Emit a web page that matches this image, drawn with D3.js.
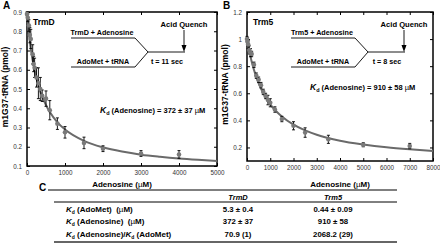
<!DOCTYPE html>
<html>
<head>
<meta charset="utf-8">
<script src="https://cdn.jsdelivr.net/npm/d3@7"></script>
<style>
  body { margin: 0; background: #fff; }
  svg { font-family: "Liberation Sans", Arial, sans-serif; }
  .tick text { font-size: 6.3px; fill: #333; }
</style>
</head>
<body>
<script>
// Panel A: TrmD, adenosine titration
var trmdConc = [0, 20, 50, 75, 100, 150, 175, 200, 250, 300, 350, 400, 500, 600, 800, 1000, 1500, 2000, 3000, 4000];
var trmdVal  = [0.89, 0.87, 0.83, 0.78, 0.76, 0.68, 0.63, 0.61, 0.56, 0.53, 0.50, 0.465, 0.45, 0.39, 0.32, 0.275, 0.22, 0.19, 0.165, 0.16];
var trmdErr  = [0.01, 0.02, 0.03, 0.04, 0.05, 0.05, 0.04, 0.05, 0.05, 0.08, 0.06, 0.03, 0.04, 0.05, 0.03, 0.03, 0.03, 0.015, 0.015, 0.02];
var trmdFitX = [0, 100, 200, 300, 400, 500, 600, 800, 1000, 1500, 2000, 2500, 3000, 3500, 4000, 4500, 5000];
var trmdFitY = [0.88, 0.708, 0.597, 0.518, 0.46, 0.416, 0.38, 0.327, 0.29, 0.231, 0.197, 0.175, 0.159, 0.148, 0.139, 0.132, 0.126];

// Panel B: Trm5
var trm5Conc = [0, 25, 50, 100, 150, 200, 300, 400, 500, 600, 700, 800, 900, 1000, 1200, 1500, 2000, 2500, 3500, 5000, 7000];
var trm5Val  = [1.0, 0.98, 0.96, 0.92, 0.90, 0.89, 0.81, 0.73, 0.70, 0.66, 0.61, 0.58, 0.55, 0.53, 0.48, 0.41, 0.36, 0.31, 0.26, 0.22, 0.21];
var trm5Err  = [0.02, 0.03, 0.03, 0.03, 0.03, 0.02, 0.02, 0.02, 0.02, 0.02, 0.02, 0.02, 0.035, 0.03, 0.02, 0.02, 0.03, 0.035, 0.03, 0.015, 0.02];
var trm5FitX = [0, 100, 200, 400, 600, 800, 1000, 1500, 2000, 2500, 3000, 4000, 5000, 6000, 7000, 8000];
var trm5FitY = [1.0, 0.909, 0.834, 0.719, 0.635, 0.57, 0.518, 0.428, 0.368, 0.326, 0.294, 0.25, 0.222, 0.201, 0.186, 0.174];

var trmdXTicks = [0, 1000, 2000, 3000, 4000, 5000];
var trmdYTicks = [0.1, 0.2, 0.3, 0.4, 0.5, 0.6, 0.7, 0.8, 0.9];
var trm5XTicks = [0, 1000, 2000, 3000, 4000, 5000, 6000, 7000, 8000];
var trm5YTicks = [0.2, 0.4, 0.6, 0.8, 1, 1.2];

// Panel C table
var tableCols = ["TrmD", "Trm5"];
var tableRows = ["(AdoMet)\u00a0\u00a0(\u00b5M)", "(Adenosine)\u00a0\u00a0(\u00b5M)", "ratio"];
var tableTrmD = ["5.3 \u00b1 0.4", "372 \u00b1 37", "70.9 (1)"];
var tableTrm5 = ["0.44 \u00b1 0.09", "910 \u00b1 58", "2068.2 (29)"];

var svg = d3.select("body").append("svg")
  .attr("width", 440).attr("height", 247);
svg.append("rect").attr("width", 440).attr("height", 247).attr("fill", "#fff");

function panel(p) {
  var g = svg.append("g");
  var x = d3.scaleLinear().domain(p.xdom).range([p.x0, p.x1]);
  var y = d3.scaleLinear().domain(p.ydom).range([p.y1, p.y0]);

  g.append("g").attr("transform", "translate(0," + p.y1 + ")")
    .call(d3.axisBottom(x).tickValues(p.xt).tickSizeInner(-3).tickSizeOuter(0).tickPadding(5).tickFormat(d3.format("")))
    .call(function (a) { a.select(".domain").remove(); });
  g.append("g").attr("transform", "translate(" + p.x0 + ",0)")
    .call(d3.axisLeft(y).tickValues(p.yt).tickSizeInner(-3).tickSizeOuter(0).tickPadding(5).tickFormat(d3.format("")))
    .call(function (a) { a.select(".domain").remove(); });
  // mirrored ticks
  g.append("g").attr("transform", "translate(0," + p.y0 + ")")
    .call(d3.axisTop(x).tickValues(p.xt).tickSizeInner(-3).tickSizeOuter(0).tickFormat(""))
    .call(function (a) { a.select(".domain").remove(); });
  g.append("g").attr("transform", "translate(" + p.x1 + ",0)")
    .call(d3.axisRight(y).tickValues(p.yt).tickSizeInner(-3).tickSizeOuter(0).tickFormat(""))
    .call(function (a) { a.select(".domain").remove(); });

  g.append("rect").attr("x", p.x0).attr("y", p.y0)
    .attr("width", p.x1 - p.x0).attr("height", p.y1 - p.y0)
    .attr("fill", "none").attr("stroke", "#000").attr("stroke-width", 1.5);

  // fit curve
  var fit = d3.line().x(function (d, i) { return x(p.fx[i]); })
    .y(function (d) { return y(d); }).curve(d3.curveMonotoneX);
  g.append("path").datum(p.fy).attr("d", fit)
    .attr("fill", "none").attr("stroke", "#6a6a6a").attr("stroke-width", 2);

  // error bars
  var eb = g.selectAll(".eb").data(p.cx).enter().append("g");
  eb.append("line")
    .attr("x1", function (d) { return x(d); }).attr("x2", function (d) { return x(d); })
    .attr("y1", function (d, i) { return y(p.cy[i] - p.ce[i]); })
    .attr("y2", function (d, i) { return y(p.cy[i] + p.ce[i]); })
    .attr("stroke", "#000").attr("stroke-width", 0.9);
  [-1, 1].forEach(function (s) {
    eb.append("line")
      .attr("x1", function (d) { return x(d) - 1.5; }).attr("x2", function (d) { return x(d) + 1.5; })
      .attr("y1", function (d, i) { return y(p.cy[i] + s * p.ce[i]); })
      .attr("y2", function (d, i) { return y(p.cy[i] + s * p.ce[i]); })
      .attr("stroke", "#000").attr("stroke-width", 0.9);
  });
  g.selectAll(".pt").data(p.cx).enter().append("circle")
    .attr("cx", function (d) { return x(d); })
    .attr("cy", function (d, i) { return y(p.cy[i]); })
    .attr("r", 2.3).attr("fill", "#7a7a7a");

  // labels
  svg.append("text").attr("x", p.x0 - 24).attr("y", 9).attr("font-size", 10)
    .attr("font-weight", "bold").text(p.letter);
  svg.append("text").attr("transform", "translate(" + (p.x0 - 19) + "," + ((p.y0 + p.y1) / 2 - 2) + ") rotate(-90)")
    .attr("text-anchor", "middle").attr("font-size", 8.5).attr("font-weight", "bold")
    .text("m1G37-tRNA (pmol)");
  var xl = svg.append("text").attr("x", (p.x0 + p.x1) / 2).attr("y", 187)
    .attr("text-anchor", "middle").attr("font-size", 8).attr("font-weight", "bold");
  xl.append("tspan").text("Adenosine (");
  xl.append("tspan").attr("font-weight", "normal").text("\u00b5");
  xl.append("tspan").text("M)");

  svg.append("text").attr("x", p.x0 + 6).attr("y", 25).attr("font-size", 8.5)
    .attr("font-weight", "bold").text(p.name);

  // scheme
  var o = p.x0;
  var sc = svg.append("g").attr("fill", "none").attr("stroke", "#000").attr("stroke-width", 0.9);
  sc.append("polyline").attr("points", [[o + 44, 38], [o + 108, 38], [o + 121, 52], [o + 158, 52]].join(" "));
  sc.append("polyline").attr("points", [[o + 44, 67], [o + 108, 67], [o + 121, 52]].join(" "));
  sc.append("line").attr("x1", o + 157).attr("x2", o + 157).attr("y1", 30).attr("y2", 49);
  svg.append("path").attr("d", "M" + (o + 154.5) + ",45 L" + (o + 159.5) + ",45 L" + (o + 157) + ",52 Z").attr("fill", "#000");
  function t(tx, ty, s, fs) {
    svg.append("text").attr("x", tx).attr("y", ty).attr("font-size", fs).attr("font-weight", "bold")
      .attr("text-anchor", "middle").text(s);
  }
  t(o + 75, 35, p.name + " + Adenosine", 7.2);
  t(o + 76, 64, "AdoMet + tRNA", 7.2);
  t(o + 157, 27, "Acid Quench", 7.6);
  t(o + 140, 64, p.tlabel, 7.2);

  var kd = svg.append("text").attr("x", p.kdx).attr("y", p.kdy).attr("font-size", 7.5).attr("font-weight", "bold");
  kd.append("tspan").attr("font-style", "italic").attr("font-size", 8.5).text("K");
  kd.append("tspan").attr("font-size", 5.5).attr("dy", 2).text("d");
  kd.append("tspan").attr("dy", -2).text(" (Adenosine) = " + p.kdtext + " ");
  kd.append("tspan").attr("font-weight", "normal").text("\u00b5");
  kd.append("tspan").text("M");
}

panel({ letter: "A", name: "TrmD", tlabel: "t = 11 sec", x0: 27, x1: 217, y0: 12, y1: 166,
  xdom: [0, 5000], ydom: [0.1, 0.9], xt: trmdXTicks, yt: trmdYTicks,
  cx: trmdConc, cy: trmdVal, ce: trmdErr, fx: trmdFitX, fy: trmdFitY,
  kdx: 100, kdy: 113, kdtext: "372 \u00b1 37" });
panel({ letter: "B", name: "Trm5", tlabel: "t = 8 sec", x0: 247, x1: 433, y0: 12, y1: 161,
  xdom: [0, 8000], ydom: [0.1, 1.2], xt: trm5XTicks, yt: trm5YTicks,
  cx: trm5Conc, cy: trm5Val, ce: trm5Err, fx: trm5FitX, fy: trm5FitY,
  kdx: 310, kdy: 90, kdtext: "910 \u00b1 58" });

// table C
var tb = svg.append("g").attr("font-weight", "bold");
tb.append("text").attr("x", 39).attr("y", 191).attr("font-size", 10).text("C");
tb.append("line").attr("x1", 48).attr("x2", 397).attr("y1", 190).attr("y2", 190).attr("stroke", "#000").attr("stroke-width", 1);
tb.append("line").attr("x1", 54).attr("x2", 397).attr("y1", 202).attr("y2", 202).attr("stroke", "#000").attr("stroke-width", 1);
tb.append("line").attr("x1", 54).attr("x2", 397).attr("y1", 242).attr("y2", 242).attr("stroke", "#666").attr("stroke-width", 2);
var colX = [238, 333];
tableCols.forEach(function (c, i) {
  tb.append("text").attr("x", colX[i]).attr("y", 199.5).attr("text-anchor", "middle")
    .attr("font-size", 7.5).attr("font-style", "italic").text(c);
});
var rowY = [212, 224, 237];
tableRows.forEach(function (r, i) {
  var tx = tb.append("text").attr("x", 66).attr("y", rowY[i]).attr("font-size", 8);
  function kd() {
    tx.append("tspan").attr("font-style", "italic").text("K");
    tx.append("tspan").attr("font-size", 5).attr("dy", 1.5).text("d");
    tx.append("tspan").attr("dy", -1.5).text(" ");
  }
  kd();
  if (r === "ratio") {
    tx.append("tspan").text("(Adenosine)/");
    kd();
    tx.append("tspan").text("(AdoMet)");
  } else {
    var parts = r.split("\u00b5");
    tx.append("tspan").text(parts[0]);
    tx.append("tspan").attr("font-weight", "normal").text("\u00b5");
    tx.append("tspan").text(parts[1]);
  }
  tb.append("text").attr("x", colX[0]).attr("y", rowY[i]).attr("text-anchor", "middle").attr("font-size", 7.8).text(tableTrmD[i]);
  tb.append("text").attr("x", colX[1]).attr("y", rowY[i]).attr("text-anchor", "middle").attr("font-size", 7.8).text(tableTrm5[i]);
});
</script>
</body>
</html>
